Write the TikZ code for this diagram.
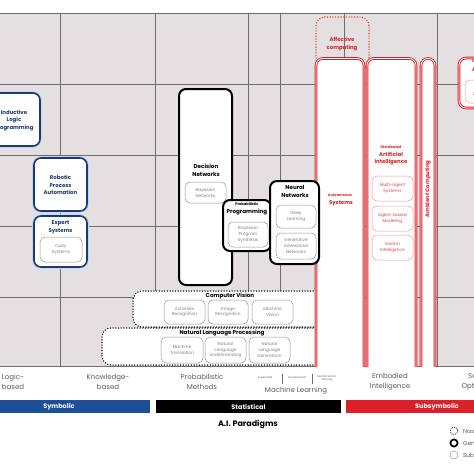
\documentclass[tikz,border=0pt]{standalone}
\usepackage{fontspec}
\setmainfont{Poppins}
\definecolor{gridbg}{RGB}{228,224,225}
\definecolor{gridln}{RGB}{110,110,110}
\definecolor{symblue}{RGB}{29,78,154}
\definecolor{symdark}{RGB}{28,58,110}
\definecolor{halo}{RGB}{196,214,238}
\definecolor{aired}{RGB}{220,32,42}
\definecolor{subgray}{RGB}{150,150,150}
\definecolor{labgray}{RGB}{90,90,90}

\tikzset{
  gridline/.style={draw=gridln, line width=0.4pt},
  bluebox/.style={preaction={draw=halo, line width=3.6pt, rounded corners=7pt}, draw=symdark, line width=1.6pt, fill=white, rounded corners=7pt, inner sep=0pt},
  blackbox/.style={draw=black, line width=2pt, fill=white, rounded corners=7pt, inner sep=0pt},
  dotbox/.style={draw=black, line width=1.5pt, dash pattern=on 0pt off 2.7pt, line cap=round, fill=white, rounded corners=9pt, inner sep=0pt},
  reddots/.style={draw=aired, line width=1.4pt, dash pattern=on 0pt off 2.7pt, line cap=round, rounded corners=9pt, inner sep=0pt},
  redbox/.style={draw=aired, line width=0.9pt, double=white, double distance=0.8pt, fill=white, rounded corners=7pt, inner sep=0pt},
  subbox/.style={draw=subgray, line width=0.5pt, fill=white, rounded corners=5pt, inner sep=0pt, text=gray, align=center, font=\fontsize{4.3}{5.8}\selectfont},
  redsub/.style={subbox, draw=aired!45, text=aired!85},
  bluetitle/.style={text=symdark, align=center, font=\bfseries\fontsize{5.4}{7.8}\selectfont},
  blacktitle/.style={text=black, align=center, font=\bfseries\fontsize{5.6}{8}\selectfont},
  redtitle/.style={text=aired, align=center, font=\bfseries\fontsize{5.4}{7.8}\selectfont},
  tinytitle/.style={font=\bfseries\fontsize{3.6}{4.5}\selectfont},
  collabel/.style={text=labgray, align=center, font=\fontsize{7}{9.8}\selectfont},
  mllabel/.style={text=labgray, align=center, font=\fontsize{2.6}{3.2}\selectfont},
  bar/.style={text=white, minimum height=13pt, inner sep=0pt, font=\bfseries\fontsize{6.5}{8}\selectfont},
  legtext/.style={anchor=west, text=labgray, font=\fontsize{5.8}{7}\selectfont}
}

\begin{document}
\begin{tikzpicture}[x=1pt,y=-1pt]
\useasboundingbox (0,0) rectangle (474,474);
\clip (0,0) rectangle (474,474);

% grid
\fill[gridbg] (0,13) rectangle (474,366);
\foreach \gy in {84,155,226,297} {
  \draw[gridline] (0,\gy) -- (474,\gy);
}
\foreach \gx in {60,155,248,280,344,437} {
  \draw[gridline] (\gx,13) -- (\gx,366);
}
\draw[gridline, line width=0.8pt] (0,13) -- (474,13);
\draw[gridline, line width=0.8pt] (0,366) -- (474,366);

% computer vision and language
\node[dotbox, minimum width=200pt, minimum height=36pt] (cv) at (233,309) {};
\node[blacktitle] (cvt) at (230,296) {Computer Vision};
\node[subbox, minimum width=41pt, minimum height=24pt] (ar) at (184.5,312) {Activities\\Recognition};
\node[subbox, minimum width=40pt, minimum height=24pt] (ir) at (228,312) {Image\\Recognition};
\node[subbox, minimum width=41pt, minimum height=24pt] (mv) at (272.5,312) {Machine\\Vision};

\node[dotbox, minimum width=228pt, minimum height=37pt] (nlp) at (216,346.5) {};
\node[blacktitle] (nlpt) at (222,333) {Natural Language Processing};
\node[subbox, minimum width=42pt, minimum height=26pt] (mt) at (182,350) {Machine\\Translation};
\node[subbox, minimum width=41pt, minimum height=26pt] (nlu) at (225.5,350) {Natural\\Language\\Understanding};
\node[subbox, minimum width=41pt, minimum height=26pt] (nlg) at (269.5,350) {Natural\\Language\\Generation};

% subsymbolic column
\begin{scope}
\clip (0,0) rectangle (474,366);
\node[reddots, minimum width=53pt, minimum height=52pt] (ac) at (342.5,43) {};
\node[redtitle] (act) at (342,44) {Affective\\computing};
\node[redbox, minimum width=48pt, minimum height=320pt, anchor=north] (as) at (340,58) {};
\node[redbox, minimum width=49pt, minimum height=320pt, anchor=north] (dai) at (391.5,58) {};
\node[redbox, minimum width=14pt, minimum height=320pt, anchor=north] (amb) at (428,58) {};
\node[redbox, minimum width=46pt, minimum height=50pt] (ea) at (482,83) {};
\end{scope}
\node[redtitle, tinytitle] (ast1) at (340,195) {Autonomous};
\node[redtitle] (ast2) at (341,203) {Systems};
\node[redtitle, tinytitle] (dait1) at (391,147) {Distributed};
\node[redtitle] (dait2) at (391,158.5) {Artificial\\Intelligence};
\node[redsub, minimum width=41pt, minimum height=25pt] (mas) at (392.5,188.5) {Multi-agent\\Systems};
\node[redsub, minimum width=41pt, minimum height=25pt] (abm) at (392.5,218.5) {Agent-based\\Modeling};
\node[redsub, minimum width=41pt, minimum height=25pt] (si) at (392.5,247.5) {Swarm\\Intelligence};
\node[redtitle, rotate=90] (ambt) at (428,189) {Ambient Computing};
\node[redtitle, tinytitle, anchor=west] (eat1) at (468.5,62) {Evolutionary};
\node[redtitle, anchor=west] (eat2) at (468.5,70) {Algorithms};
\node[redsub, minimum width=44pt, minimum height=23pt] (ga) at (487,91.5) {};
\node[text=aired!85, anchor=west, align=center, font=\fontsize{4.3}{5.8}\selectfont] (gat) at (469,91.5) {Genetic\\Algorithms};

% symbolic column
\node[bluebox, minimum width=60pt, minimum height=53pt] (ilp) at (10,119.5) {};
\node[bluetitle] (ilpt) at (14,120.5) {Inductive\\Logic\\Programming};
\node[bluebox, minimum width=53pt, minimum height=53pt] (rpa) at (60.5,184.5) {};
\node[bluetitle] (rpat) at (60.5,185) {Robotic\\Process\\Automation};
\node[bluebox, minimum width=53pt, minimum height=51pt] (es) at (60.5,241.5) {};
\node[bluetitle] (est) at (60.5,227) {Expert\\Systems};
\node[subbox, minimum width=42pt, minimum height=25pt] (fs) at (61,249.5) {Fuzzy\\Systems};

% statistical column
\node[blackbox, minimum width=53pt, minimum height=196pt] (dn) at (205.5,187) {};
\node[blacktitle] (dnt) at (206,170) {Decision\\Networks};
\node[subbox, minimum width=41pt, minimum height=21pt] (bn) at (205.5,192.5) {Bayesian\\Networks};
\node[blackbox, minimum width=48pt, minimum height=51pt] (pp) at (247,225.5) {};
\node[blacktitle, tinytitle] (ppt1) at (247,204.5) {Probabilistic};
\node[blacktitle] (ppt2) at (247,212.5) {Programming};
\node[subbox, minimum width=40pt, minimum height=25pt] (bps) at (248,234.5) {Bayesian\\Program\\Synthesis};
\node[blackbox, minimum width=49pt, minimum height=83pt] (nn) at (294.5,222.5) {};
\node[blacktitle] (nnt) at (295,191) {Neural\\Networks};
\node[subbox, minimum width=40pt, minimum height=23pt] (dl) at (296,216.5) {Deep\\Learning};
\node[subbox, minimum width=40pt, minimum height=26pt] (gan) at (296,246) {Generative\\Adversarial\\Networks};

% column labels
\node[collabel] (lb) at (13,382) {Logic-\\based};
\node[collabel] (kb) at (108,382) {Knowledge-\\based};
\node[collabel] (pm) at (202,382) {Probabilistic\\Methods};
\node[mllabel] (sup) at (265,378) {Supervised};
\node[mllabel] (uns) at (297,378) {Unsupervised};
\node[mllabel] (rl) at (327,378) {Reinforcement\\learning};
\draw[gridline, line width=0.3pt] (282,374) -- (282,384);
\draw[gridline, line width=0.3pt] (312,374) -- (312,384);
\node[collabel] (ml) at (296,391) {Machine Learning};
\node[collabel] (ei) at (390,382) {Embodied\\Intelligence};
\node[collabel] (so) at (484,382) {Search \&\\Optimization};

% paradigm bars
\node[bar, fill=symblue, minimum width=155pt] (sym) at (72.5,406.5) {};
\node[bar, text=white] (symt) at (59,406.5) {Symbolic};
\node[bar, fill=black, minimum width=185pt] (stat) at (248.5,406.5) {Statistical};
\node[bar, fill=aired, minimum width=134pt] (subs) at (413,406.5) {};
\node[bar] (subst) at (437,406.5) {Subsymbolic};
\node[font=\bfseries\fontsize{8}{10}\selectfont] (par) at (248,424) {A.I. Paradigms};

% legend
\draw[black, line width=1.1pt, dash pattern=on 0pt off 2pt, line cap=round] (454,431) circle (3.8);
\draw[black, line width=1.7pt] (454,443) circle (3.6);
\draw[subgray, line width=0.5pt] (454,455) circle (4);
\node[legtext] (l1) at (459.5,431) {Nascent};
\node[legtext] (l2) at (459.5,443) {General};
\node[legtext] (l3) at (459.5,455) {Subfield};
\end{tikzpicture}
\end{document}
